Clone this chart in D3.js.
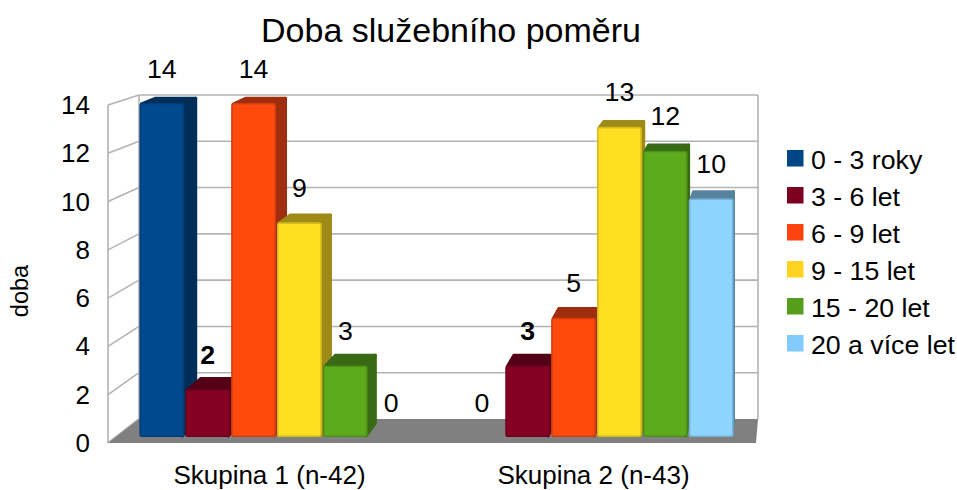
<!DOCTYPE html>
<html><head><meta charset="utf-8">
<script src="https://cdn.jsdelivr.net/npm/d3@7"></script>
<style>html,body{margin:0;background:#fff}svg{display:block}text{font-family:"Liberation Sans",sans-serif;fill:#000}</style>
</head><body><svg id="c" width="957" height="490"></svg>
<script>
const title = "Doba služebního poměru";
const yTitle = "doba";
const categories = ["Skupina 1 (n-42)", "Skupina 2 (n-43)"];
const seriesNames = ["0 - 3 roky", "3 - 6 let", "6 - 9 let", "9 - 15 let", "15 - 20 let", "20 a více let"];
const seriesColors = ["#004586", "#7e0021", "#ff420e", "#ffd320", "#579d1c", "#83caff"];
const barColors = ["#004a8f", "#850024", "#ff4a0f", "#ffdf22", "#5cab1e", "#8dd5ff"];
const skupina1 = [14, 2, 14, 9, 3, 0];
const skupina2 = [0, 3, 5, 13, 12, 10];
const boldLabels = ["3 - 6 let"];
const yTicks = [0, 2, 4, 6, 8, 10, 12, 14];

const rows = [skupina1, skupina2];
const svg = d3.select("#c");
svg.append("defs").append("filter").attr("id","soft")
  .append("feGaussianBlur").attr("stdDeviation",0.6);

// perspective box
const front = {l:108, r:756, t:105, b:443};
const back  = {l:139, r:758, t:95, b:419};
const vp = {x:823, y:-170};
const DEPTH = 0.021;

const yFront = d3.scaleLinear().domain([0,14]).range([front.b, front.t]);
const yBack  = d3.scaleLinear().domain([0,14]).range([back.b, back.t]);
const yBar   = d3.scaleLinear().domain([0,14]).range([437, 103]);
const x0 = d3.scaleBand().domain(categories).range([117,757]).paddingInner(0.14).paddingOuter(0.07);
const x1 = d3.scaleBand().domain(seriesNames).range([0,x0.bandwidth()]);
const xLabel = d3.scaleBand().domain(categories).range([front.l,front.r]);

const depth = (x,y)=>[x+(vp.x-x)*DEPTH, y+(vp.y-y)*DEPTH];
const grid = "#b3b3b3";

// walls and gridlines
const g = svg.append("g").attr("fill","none").attr("stroke",grid).attr("stroke-width",1.6);
g.selectAll("line.b").data(yTicks.filter(d=>d>0)).join("line")
  .attr("x1",back.l).attr("x2",back.r).attr("y1",d=>yBack(d)).attr("y2",d=>yBack(d));
g.selectAll("line.s").data(yTicks).join("line").attr("class","s")
  .attr("x1",front.l).attr("x2",back.l).attr("y1",d=>yFront(d)).attr("y2",d=>yBack(d));
g.append("line").attr("x1",back.l).attr("x2",back.l).attr("y1",back.t).attr("y2",back.b);
g.append("line").attr("x1",back.r).attr("x2",back.r).attr("y1",back.t).attr("y2",back.b);
g.append("line").attr("x1",front.l).attr("x2",front.l).attr("y1",front.t).attr("y2",front.b);

// floor
svg.append("polygon").attr("fill","#808080")
  .attr("points",[[front.l,front.b],[back.l,back.b],[back.r,back.b],[front.r,front.b]].join(" "));

// bars
const shade = (c,k)=>d3.rgb(c).darker(k).formatHex();
const line = d3.line().curve(d3.curveLinearClosed);
const bars = [];
categories.forEach((cat,ci)=>seriesNames.forEach((s,si)=>{
  bars.push({cat,s,v:rows[ci][si],c:barColors[si]});
}));
const barG = svg.append("g").attr("filter","url(#soft)");
bars.filter(d=>d.v>0).forEach(d=>{
  const xa=x0(d.cat)+x1(d.s), xb=xa+x1.bandwidth()-1, yt=yBar(d.v), yb=yBar(0);
  const b=barG.append("g");
  const sideC=shade(d.c,1.35);
  b.append("path").attr("fill",sideC).attr("stroke",sideC).attr("stroke-width",3).attr("stroke-linejoin","round")
    .attr("d",line([[xb-2,yt+1],depth(xb-2,yt+1),depth(xb-2,yb-1),[xb-2,yb-1]]));
  b.append("path").attr("fill",sideC).attr("stroke",sideC).attr("stroke-width",3).attr("stroke-linejoin","round")
    .attr("d",line([[xa+2,yt+1],depth(xa+2,yt+1),depth(xb-2,yt+1),[xb-2,yt+1]]));
  b.append("rect").attr("x",xa+0.8).attr("y",yt+0.8).attr("width",xb-xa-1.6).attr("height",yb-yt-1.6)
    .attr("rx",2).attr("fill",d.c).attr("stroke",shade(d.c,0.5)).attr("stroke-width",1.6);
});

// data labels
svg.append("g").selectAll("text").data(bars).join("text")
  .attr("x",d=>x0(d.cat)+x1(d.s)+x1.bandwidth()/2-0.5)
  .attr("y",d=>yBar(d.v)-35+9.5)
  .attr("text-anchor","middle").attr("font-size",26.7)
  .attr("font-weight",d=>boldLabels.includes(d.s)?"bold":"normal")
  .text(d=>d.v);

// y tick labels
svg.append("g").selectAll("text").data(yTicks).join("text")
  .attr("x",90).attr("y",d=>yFront(d)+9)
  .attr("text-anchor","end").attr("font-size",26).text(d=>d);

// category labels
svg.append("g").selectAll("text").data(categories).join("text")
  .attr("x",d=>xLabel(d)+xLabel.bandwidth()/2-0.5).attr("y",484.3)
  .attr("text-anchor","middle").attr("font-size",26).text(d=>d);

// titles
svg.append("text").attr("x",451).attr("y",42).attr("text-anchor","middle").attr("font-size",34).text(title);
svg.append("text").attr("transform","translate(28,291) rotate(-90)").attr("text-anchor","middle").attr("font-size",23.5).text(yTitle);

// legend
const legY = d3.scalePoint().domain(seriesNames).range([160,345]);
const leg = svg.append("g").selectAll("g").data(seriesNames).join("g").attr("transform",d=>`translate(787,${legY(d)})`);
leg.append("rect").attr("x",0).attr("y",-10).attr("width",16.5).attr("height",16.5)
  .attr("fill",(d,i)=>seriesColors[i]);
leg.append("text").attr("x",24).attr("y",8.5).attr("font-size",26.7).text(d=>d);
</script></body></html>
